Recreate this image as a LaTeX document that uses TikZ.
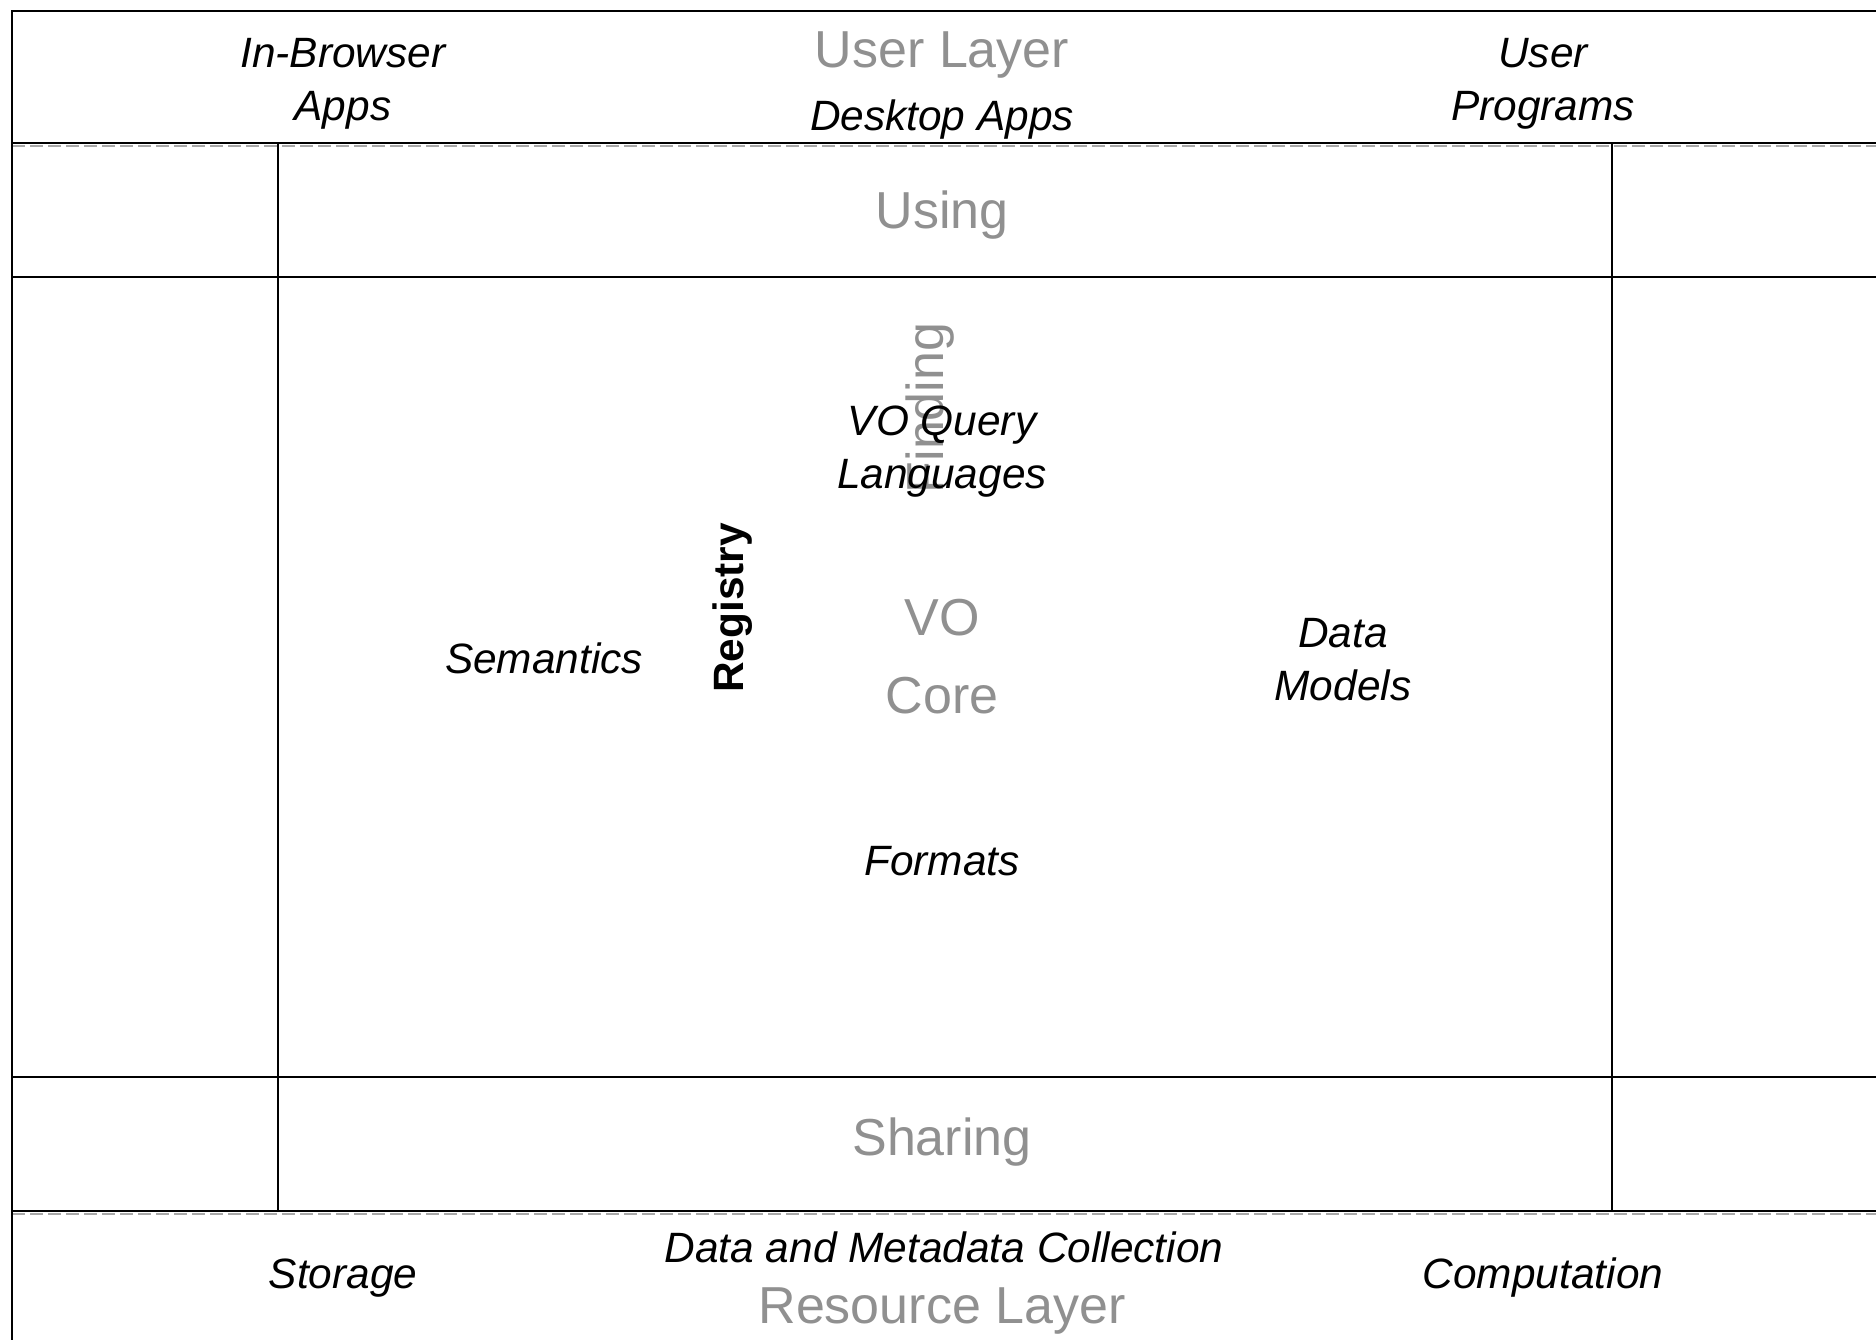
\documentclass[tikz,border=0pt]{standalone}
\usepackage{fontspec}
\setmainfont{Liberation Sans}
\definecolor{laygray}{HTML}{909090}
\definecolor{dashgray}{HTML}{A8A8A8}
\begin{document}
\begin{tikzpicture}[x=0.5pt,y=-0.5pt,
  frame/.style={draw=black,line width=1.1pt},
  ghost/.style={draw=dashgray,line width=1pt,dash pattern=on 6.5pt off 2.5pt},
  lbl/.style={inner sep=0pt,anchor=base,align=center,text=black,font=\fontsize{21.2}{26.5}\selectfont\itshape},
  glbl/.style={inner sep=0pt,anchor=base,align=center,text=laygray,font=\fontsize{26}{39}\selectfont},
  rlbl/.style={inner sep=0pt,anchor=base,text=black,font=\fontsize{21.2}{26.5}\selectfont\bfseries}]
\useasboundingbox (0,0) rectangle (1876,1340);
\clip (0,0) rectangle (1876,1340);
\fill[white] (0,0) rectangle (1876,1340);
% frame coordinates
\coordinate (tl) at (12,11);
\coordinate (tr) at (1890,11);
\coordinate (bl) at (12,1350);
\coordinate (a1) at (12,143);  \coordinate (a2) at (1890,143);
\coordinate (d1) at (12,145.5);  \coordinate (d2) at (1890,145.5);
\coordinate (b1) at (12,277);  \coordinate (b2) at (1890,277);
\coordinate (c1) at (12,1077); \coordinate (c2) at (1890,1077);
\coordinate (e1) at (12,1211); \coordinate (e2) at (1890,1211);
\coordinate (f1) at (12,1213.5); \coordinate (f2) at (1890,1213.5);
\coordinate (v1t) at (278,143);  \coordinate (v1b) at (278,1211);
\coordinate (v2t) at (1612,143); \coordinate (v2b) at (1612,1211);
% dashed ghost edges
\draw[ghost] (d1) -- (d2);
\draw[ghost] (f1) -- (f2);
% solid frame lines
\draw[frame] (bl) -- (tl) -- (tr);
\draw[frame] (a1) -- (a2);
\draw[frame] (b1) -- (b2);
\draw[frame] (c1) -- (c2);
\draw[frame] (e1) -- (e2);
\draw[frame] (v1t) -- (v1b);
\draw[frame] (v2t) -- (v2b);
% user layer
\node[lbl] (inbrowser) at (343,120) {In-Browser\\Apps};
\node[glbl] (userlayer) at (942,67) {User Layer};
\node[lbl] (desktop) at (942,130) {Desktop Apps};
\node[lbl] (userprog) at (1543,120) {User\\Programs};
% using
\node[glbl] (using) at (942,228) {Using};
% core region
\node[glbl,rotate=90] (finding) at (943,408) {Finding};
\node[lbl] (voql) at (942,488) {VO Query\\Languages};
\node[rlbl,rotate=90] (registry) at (743,608) {Registry};
\node[lbl] (semantics) at (544,673) {Semantics};
\node[glbl] (vocore) at (942,713) {VO\\Core};
\node[lbl] (datamodels) at (1343,700) {Data\\Models};
\node[lbl] (formats) at (942,875) {Formats};
% sharing
\node[glbl] (sharing) at (942,1155) {Sharing};
% resource layer
\node[lbl] (dmc) at (944,1262) {Data and Metadata Collection};
\node[lbl] (storage) at (343,1288) {Storage};
\node[lbl] (computation) at (1543,1288) {Computation};
\node[glbl] (resource) at (942,1323) {Resource Layer};
\end{tikzpicture}
\end{document}
